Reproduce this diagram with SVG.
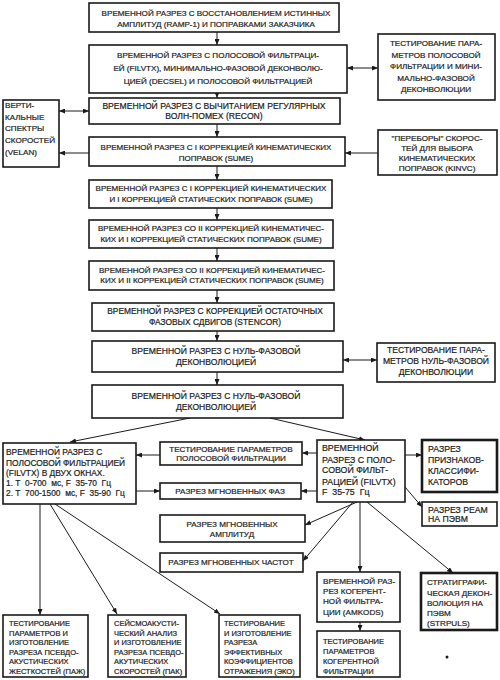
<svg xmlns="http://www.w3.org/2000/svg" width="500" height="680" viewBox="0 0 500 680">
<defs>
<style>
.b{fill:#fff;stroke:#1a1a1a;stroke-width:1.6}
.bt{fill:#fff;stroke:#1a1a1a;stroke-width:2.6}
text{font-family:"Liberation Sans",Arial,sans-serif;font-size:8.1px;fill:#1a1a1a;stroke:#1a1a1a;stroke-width:0.2}
.c{text-anchor:middle}
.f80{font-size:8px}
.f86{font-size:8.6px}
.f88{font-size:8.8px}
.f87{font-size:8.7px}
.f84{font-size:8.4px}
.f75{font-size:7.5px}
.ln{stroke:#1a1a1a;stroke-width:1;fill:none;marker-end:url(#a)}
.dl{stroke:#1a1a1a;stroke-width:1;fill:none;marker-end:url(#a);marker-start:url(#a)}
</style>
<marker id="a" markerUnits="userSpaceOnUse" markerWidth="6" markerHeight="5" refX="6" refY="2.5" orient="auto-start-reverse"><path d="M0,0 L6,2.5 L0,5 z" fill="#1a1a1a"/></marker>
</defs>
<rect width="500" height="680" fill="#fff"/>
<g id="connectors">
<line class="ln" x1="217" y1="32" x2="217" y2="45"/>
<line class="ln" x1="217" y1="93" x2="217" y2="98"/>
<line class="ln" x1="217" y1="124" x2="217" y2="137"/>
<line class="ln" x1="217" y1="166" x2="217" y2="180"/>
<line class="ln" x1="217" y1="208" x2="217" y2="220"/>
<line class="ln" x1="217" y1="248" x2="217" y2="261"/>
<line class="ln" x1="217" y1="290" x2="217" y2="303"/>
<line class="ln" x1="217" y1="331" x2="217" y2="341"/>
<line class="ln" x1="217" y1="372" x2="217" y2="385"/>
<line class="dl" x1="347" y1="68" x2="378" y2="68"/>
<line class="dl" x1="89" y1="111" x2="59" y2="111"/>
<line class="ln" x1="89" y1="153" x2="59" y2="153"/>
<line class="ln" x1="378" y1="153" x2="345" y2="153"/>
<line class="dl" x1="343" y1="360" x2="377" y2="360"/>
<line class="ln" x1="190" y1="418" x2="70" y2="442"/>
<line class="ln" x1="270" y1="418" x2="365" y2="440"/>
<line class="ln" x1="317" y1="453" x2="302" y2="453"/>
<line class="ln" x1="160" y1="455" x2="136" y2="455"/>
<line class="ln" x1="136" y1="491" x2="160" y2="491"/>
<line class="ln" x1="317" y1="491" x2="301" y2="491"/>
<line class="ln" x1="405" y1="455" x2="422" y2="455"/>
<line class="ln" x1="405" y1="487" x2="422" y2="507"/>
<line class="ln" x1="357" y1="502" x2="305" y2="525"/>
<line class="ln" x1="353" y1="502" x2="303" y2="561"/>
<line class="ln" x1="360" y1="502" x2="360" y2="572"/>
<line class="ln" x1="367" y1="502" x2="453" y2="573"/>
<line class="ln" x1="360" y1="622" x2="360" y2="631"/>
<line class="ln" x1="40" y1="504" x2="40" y2="615"/>
<line class="ln" x1="50" y1="504" x2="117" y2="614"/>
<line class="ln" x1="55" y1="504" x2="220" y2="614"/>
</g>
<g id="n1"><rect class="b" x="89" y="3" width="250" height="29"/>
<text class="c" x="216" y="16">ВРЕМЕННОЙ РАЗРЕЗ С ВОССТАНОВЛЕНИЕМ ИСТИННЫХ</text>
<text class="c" x="216" y="26.5">АМПЛИТУД (RAMP-1) И ПОПРАВКАМИ ЗАКАЗЧИКА</text></g>
<g id="n2"><rect class="b" x="89" y="45" width="258" height="48"/>
<text class="c" x="218" y="58">ВРЕМЕННОЙ РАЗРЕЗ С ПОЛОСОВОЙ ФИЛЬТРАЦИ-</text>
<text class="c" x="218" y="71">ЕЙ (FILVTX), МИНИМАЛЬНО-ФАЗОВОЙ ДЕКОНВОЛЮ-</text>
<text class="c" x="218" y="84">ЦИЕЙ (DECSEL) И ПОЛОСОВОЙ ФИЛЬТРАЦИЕЙ</text></g>
<g id="r1"><rect class="b" x="378" y="34" width="117" height="66"/>
<text class="c" x="436" y="46">ТЕСТИРОВАНИЕ ПАРА-</text>
<text class="c" x="436" y="57.5">МЕТРОВ ПОЛОСОВОЙ</text>
<text class="c" x="436" y="69">ФИЛЬТРАЦИИ И МИНИ-</text>
<text class="c" x="436" y="80.5">МАЛЬНО-ФАЗОВОЙ</text>
<text class="c" x="436" y="92">ДЕКОНВОЛЮЦИИ</text></g>
<g id="n3"><rect class="b" x="89" y="98" width="251" height="26"/>
<text class="c f86" x="214" y="108.5">ВРЕМЕННОЙ РАЗРЕЗ С ВЫЧИТАНИЕМ РЕГУЛЯРНЫХ</text>
<text class="c f86" x="214" y="118.5">ВОЛН-ПОМЕХ (RECON)</text></g>
<g id="velan"><rect class="b" x="3" y="100" width="56" height="67"/>
<text x="5" y="108">ВЕРТИ-</text>
<text x="5" y="120">КАЛЬНЫЕ</text>
<text x="5" y="131">СПЕКТРЫ</text>
<text x="5" y="143">СКОРОСТЕЙ</text>
<text x="5" y="155">(VELAN)</text></g>
<g id="n4"><rect class="b" x="89" y="137" width="256" height="29"/>
<text class="c f80" x="216" y="150">ВРЕМЕННОЙ РАЗРЕЗ С I КОРРЕКЦИЕЙ КИНЕМАТИЧЕСКИХ</text>
<text class="c f80" x="216" y="160.5">ПОПРАВОК (SUME)</text></g>
<g id="kinvc"><rect class="b" x="378" y="130" width="119" height="45"/>
<text class="c" x="437" y="141">"ПЕРЕБОРЫ" СКОРОС-</text>
<text class="c" x="437" y="151">ТЕЙ ДЛЯ ВЫБОРА</text>
<text class="c" x="437" y="161">КИНЕМАТИЧЕСКИХ</text>
<text class="c" x="437" y="171">ПОПРАВОК (KINVC)</text></g>
<g id="n5"><rect class="b" x="89" y="180" width="243" height="28"/>
<text class="c f80" x="211" y="191">ВРЕМЕННОЙ РАЗРЕЗ С I КОРРЕКЦИЕЙ КИНЕМАТИЧЕСКИХ</text>
<text class="c f80" x="211" y="201.5">И I КОРРЕКЦИЕЙ СТАТИЧЕСКИХ ПОПРАВОК (SUME)</text></g>
<g id="n6"><rect class="b" x="89" y="220" width="244" height="28"/>
<text class="c f80" x="211" y="231">ВРЕМЕННОЙ РАЗРЕЗ СО II КОРРЕКЦИЕЙ КИНЕМАТИЧЕС-</text>
<text class="c f80" x="211" y="241.5">КИХ И I КОРРЕКЦИЕЙ СТАТИЧЕСКИХ ПОПРАВОК (SUME)</text></g>
<g id="n7"><rect class="b" x="89" y="261" width="245" height="29"/>
<text class="c f80" x="212" y="272.5">ВРЕМЕННОЙ РАЗРЕЗ СО II КОРРЕКЦИЕЙ КИНЕМАТИЧЕС-</text>
<text class="c f80" x="212" y="283">КИХ И II КОРРЕКЦИЕЙ СТАТИЧЕСКИХ ПОПРАВОК (SUME)</text></g>
<g id="n8"><rect class="b" x="92" y="303" width="242" height="28"/>
<text class="c f84" x="215" y="314">ВРЕМЕННОЙ РАЗРЕЗ С КОРРЕКЦИЕЙ ОСТАТОЧНЫХ</text>
<text class="c f84" x="215" y="324.5">ФАЗОВЫХ СДВИГОВ (STENCOR)</text></g>
<g id="n9"><rect class="b" x="92" y="341" width="251" height="31"/>
<text class="c f86" x="216" y="353.5">ВРЕМЕННОЙ РАЗРЕЗ С НУЛЬ-ФАЗОВОЙ</text>
<text class="c f86" x="216" y="364.5">ДЕКОНВОЛЮЦИЕЙ</text></g>
<g id="r3"><rect class="b" x="377" y="343" width="118" height="39"/>
<text class="c f86" x="436" y="353">ТЕСТИРОВАНИЕ ПАРА-</text>
<text class="c f86" x="436" y="364">МЕТРОВ НУЛЬ-ФАЗОВОЙ</text>
<text class="c f86" x="436" y="375">ДЕКОНВОЛЮЦИИ</text></g>
<g id="n10"><rect class="b" x="92" y="385" width="251" height="33"/>
<text class="c f86" x="216" y="398.5">ВРЕМЕННОЙ РАЗРЕЗ С НУЛЬ-ФАЗОВОЙ</text>
<text class="c f86" x="216" y="409.5">ДЕКОНВОЛЮЦИЕЙ</text></g>
<g id="left"><rect class="b" x="3" y="443" width="133" height="61"/>
<text class="f84" x="6" y="455">ВРЕМЕННОЙ РАЗРЕЗ С</text>
<text class="f84" x="6" y="466">ПОЛОСОВОЙ ФИЛЬТРАЦИЕЙ</text>
<text class="f84" x="6" y="476">(FILVTX) В ДВУХ ОКНАХ.</text>
<text class="f84" x="6" y="486" xml:space="preserve">1. Т  0-700  мс, F  35-70  Гц</text>
<text class="f84" x="6" y="495.5" xml:space="preserve">2. Т  700-1500  мс, F  35-90  Гц</text></g>
<g id="m1"><rect class="b" x="160" y="442" width="142" height="23"/>
<text class="c" x="231" y="451.5">ТЕСТИРОВАНИЕ ПАРАМЕТРОВ</text>
<text class="c" x="231" y="461">ПОЛОСОВОЙ ФИЛЬТРАЦИИ</text></g>
<g id="m2"><rect class="b" x="160" y="483" width="141" height="16"/>
<text class="c" x="230" y="494">РАЗРЕЗ МГНОВЕННЫХ ФАЗ</text></g>
<g id="filvtx"><rect class="b" x="317" y="440" width="88" height="62"/>
<text class="f88" x="322" y="451">ВРЕМЕННОЙ</text>
<text class="f88" x="322" y="462.5">РАЗРЕЗ С ПОЛО-</text>
<text class="f88" x="322" y="473">СОВОЙ ФИЛЬТ-</text>
<text class="f88" x="322" y="484.5">РАЦИЕЙ (FILVTX)</text>
<text class="f88" x="322" y="495" xml:space="preserve">F  35-75  Гц</text></g>
<g id="priz"><rect class="bt" x="422" y="440" width="75" height="52"/>
<text class="f87" x="428" y="452">РАЗРЕЗ</text>
<text class="f87" x="428" y="463">ПРИЗНАКОВ-</text>
<text class="f87" x="428" y="473.5">КЛАССИФИ-</text>
<text class="f87" x="428" y="484.5">КАТОРОВ</text></g>
<g id="ream"><rect class="b" x="422" y="502" width="75" height="24"/>
<text class="f87" x="428" y="512.5">РАЗРЕЗ РЕАМ</text>
<text class="f87" x="428" y="522">НА ПЭВМ</text></g>
<g id="ampl"><rect class="b" x="160" y="515" width="145" height="27"/>
<text class="c" x="232" y="527">РАЗРЕЗ МГНОВЕННЫХ</text>
<text class="c" x="232" y="537">АМПЛИТУД</text></g>
<g id="freq"><rect class="b" x="160" y="553" width="143" height="19"/>
<text class="c" x="231" y="565">РАЗРЕЗ МГНОВЕННЫХ ЧАСТОТ</text></g>
<g id="amkods"><rect class="b" x="317" y="572" width="83" height="50"/>
<text x="323" y="584">ВРЕМЕННОЙ РАЗ-</text>
<text x="323" y="594">РЕЗ КОГЕРЕНТ-</text>
<text x="323" y="604">НОЙ ФИЛЬТРА-</text>
<text x="323" y="615">ЦИИ (AMKODS)</text></g>
<g id="strpuls"><rect class="bt" x="421" y="573" width="76" height="57"/>
<text x="427" y="585">СТРАТИГРАФИ-</text>
<text x="427" y="596">ЧЕСКАЯ ДЕКОН-</text>
<text x="427" y="606">ВОЛЮЦИЯ НА</text>
<text x="427" y="616">ПЭВМ</text>
<text x="427" y="626">(STRPULS)</text></g>
<g id="testcoh"><rect class="b" x="317" y="631" width="83" height="46"/>
<text class="f75" x="323" y="644">ТЕСТИРОВАНИЕ</text>
<text class="f75" x="323" y="654">ПАРАМЕТРОВ</text>
<text class="f75" x="323" y="664">КОГЕРЕНТНОЙ</text>
<text class="f75" x="323" y="674">ФИЛЬТРАЦИИ</text></g>
<g id="paz"><rect class="b" x="3" y="615" width="85" height="62"/>
<text class="f75" x="9" y="626">ТЕСТИРОВАНИЕ</text>
<text class="f75" x="9" y="635.5">ПАРАМЕТРОВ И</text>
<text class="f75" x="9" y="645">ИЗГОТОВЛЕНИЕ</text>
<text class="f75" x="9" y="654.5">РАЗРЕЗА ПСЕВДО-</text>
<text class="f75" x="9" y="664">АКУСТИЧЕСКИХ</text>
<text class="f75" x="9" y="673.5">ЖЕСТКОСТЕЙ (ПАЖ)</text></g>
<g id="pak"><rect class="b" x="108" y="615" width="78" height="62"/>
<text class="f75" x="114" y="626">СЕЙСМОАКУСТИ-</text>
<text class="f75" x="114" y="635.5">ЧЕСКИЙ АНАЛИЗ</text>
<text class="f75" x="114" y="645">И ИЗГОТОВЛЕНИЕ</text>
<text class="f75" x="114" y="654.5">РАЗРЕЗА ПСЕВДО-</text>
<text class="f75" x="114" y="664">АКУТИЧЕСКИХ</text>
<text class="f75" x="114" y="673.5">СКОРОСТЕЙ (ПАК)</text></g>
<g id="eko"><rect class="b" x="219" y="615" width="81" height="62"/>
<text class="f75" x="224" y="626">ТЕСТИРОВАНИЕ</text>
<text class="f75" x="224" y="635.5">И ИЗГОТОВЛЕНИЕ</text>
<text class="f75" x="224" y="645">РАЗРЕЗА</text>
<text class="f75" x="224" y="654.5">ЭФФЕКТИВНЫХ</text>
<text class="f75" x="224" y="664">КОЭФФИЦИЕНТОВ</text>
<text class="f75" x="224" y="673.5">ОТРАЖЕНИЯ (ЭКО)</text></g>
<circle cx="447" cy="657" r="1.5" fill="#1a1a1a"/>
</svg>
